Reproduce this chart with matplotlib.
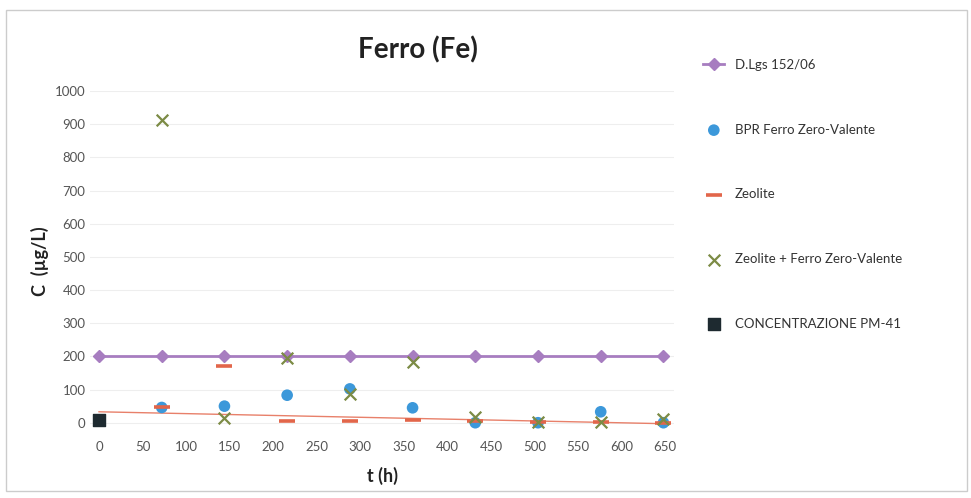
import matplotlib.pyplot as plt
from matplotlib.patches import Rectangle

# sampling times (hours)
t = [0, 72, 144, 216, 288, 360, 432, 504, 576, 648]
limite = [200] * len(t)  # D.Lgs 152/06 limit

t_mis = [72, 144, 216, 288, 360, 432, 504, 576, 648]
bpr_ferro = [46, 50, 83, 102, 45, 0, 0, 33, 0]
zeolite = [47, 170, 6, 6, 9, 5, 3, 2, 0]
zeolite_ferro = [912, 15, 196, 86, 182, 17, 1, 2, 10]

t_pm41 = [0]
pm41 = [8]

# linear trend of the zeolite series as drawn
trend_t = [0, 650]
trend_zeolite = [33, -3]

plt.rcParams['font.family'] = ['Lato', 'DejaVu Sans']

fig = plt.figure(figsize=(9.71, 4.98), dpi=100)
ax = fig.add_axes([0.093, 0.1345, 0.601, 0.6825])

ax.plot(trend_t, trend_zeolite, color='#E8806A', lw=1.0, zorder=2)

ax.plot(t, limite, color='#A77DC0', lw=2.0, marker='D', markersize=6,
        label='D.Lgs 152/06', zorder=3)
ax.scatter(t_mis, bpr_ferro, color='#3C98DA', s=70, edgecolor='none',
           label='BPR Ferro Zero-Valente', zorder=4)
ax.scatter(t_mis, zeolite, color='#E2664A', marker='_', s=120, linewidths=2.6,
           label='Zeolite', zorder=5)
ax.scatter(t_mis, zeolite_ferro, color='#7C8B45', marker='x', s=70, linewidths=1.6,
           label='Zeolite + Ferro Zero-Valente', zorder=6)
ax.scatter(t_pm41, pm41, color='#1E2A30', marker='s', s=80,
           label='CONCENTRAZIONE PM-41', zorder=7)

ax.set_xlim(-10, 660)
ax.set_ylim(-25, 1000)
ax.set_xticks(range(0, 651, 50))
ax.set_yticks(range(0, 1001, 100))
ax.grid(axis='y', color='#EEEEEE', lw=0.8)
ax.set_axisbelow(True)
for s in ax.spines.values():
    s.set_visible(False)
ax.tick_params(length=0, labelsize=9.5, labelcolor='#555555')
ax.tick_params(axis='x', pad=7)

fig.text(0.43, 0.9, 'Ferro (Fe)', fontsize=20, fontweight='bold', color='#222222',
         ha='center', va='center')
ax.set_xlabel('t (h)', fontsize=13, fontweight='bold', color='#222222', labelpad=10)
ax.set_ylabel('C  (µg/L)', fontsize=13, fontweight='bold', color='#222222', labelpad=4)

ax.legend(loc='upper left', bbox_to_anchor=(1.03, 1.13), frameon=False,
          fontsize=9.5, labelspacing=4.0, handlelength=1.6, handletextpad=0.8,
          labelcolor='#333333')

# outer chart border
fig.patches.append(Rectangle((0.006, 0.015), 0.99, 0.965, transform=fig.transFigure,
                             fill=False, edgecolor='#CCCCCC', lw=1.0))

fig.savefig('out.png', dpi=100, facecolor='white')
